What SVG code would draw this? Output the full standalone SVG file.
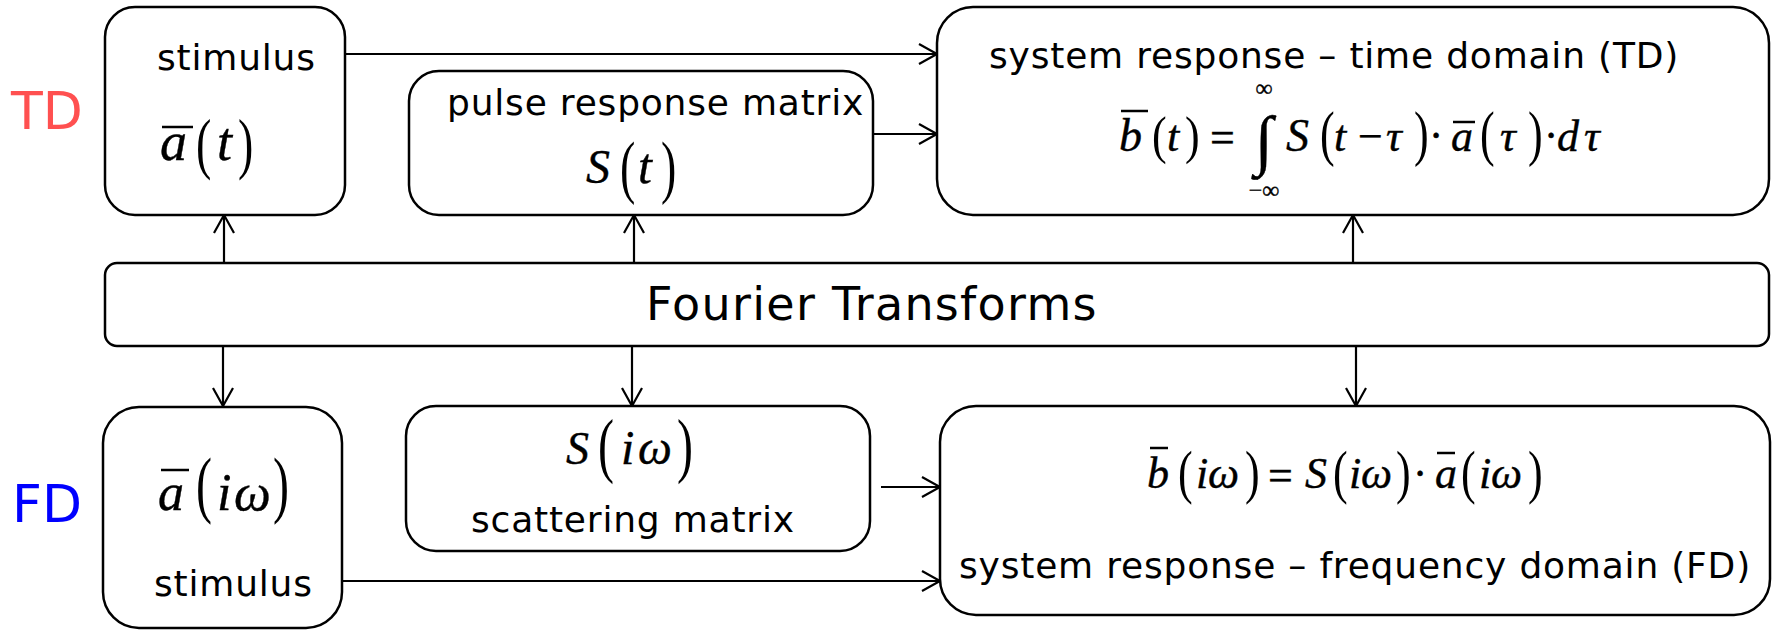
<svg xmlns="http://www.w3.org/2000/svg" width="1777" height="630" viewBox="0 0 1777 630">
<style>
.box{fill:#fff;stroke:#000;stroke-width:2.5}
.lbl{font-family:"DejaVu Sans",Verdana,sans-serif;font-size:36px;letter-spacing:0.8px;fill:#000}
.big{font-size:46px;letter-spacing:1.3px}
.m{font-family:"Liberation Serif","Times New Roman",serif;fill:#000;stroke:#000;stroke-width:0.4}
.i{font-style:italic}
.p{font-family:"Liberation Serif","Times New Roman",serif;font-size:46px;fill:#000}
.bar{stroke:#000;stroke-width:2.5}
.conn line{stroke:#000;stroke-width:2.2;fill:none;marker-end:url(#arr)}
</style>
<defs>
<marker id="arr" markerUnits="userSpaceOnUse" markerWidth="24" markerHeight="24" viewBox="-20 -12 22 24" refX="0" refY="0" orient="auto">
<path d="M-18,-10 L0,0 L-18,10" fill="none" stroke="#000" stroke-width="2.2"/>
</marker>
</defs>
<rect width="1777" height="630" fill="#fff"/>

<text x="11" y="129" font-family="DejaVu Sans,Verdana,sans-serif" font-size="52" fill="#ff5050">TD</text>
<text x="12" y="522" font-family="DejaVu Sans,Verdana,sans-serif" font-size="52" fill="#0000ff">FD</text>

<g id="connectors" class="conn">
<line x1="346" y1="54" x2="937" y2="54"/>
<line x1="873" y1="134" x2="937" y2="134"/>
<line x1="224" y1="263" x2="224" y2="215"/>
<line x1="634" y1="263" x2="634" y2="215"/>
<line x1="1353" y1="263" x2="1353" y2="215"/>
<line x1="223" y1="346" x2="223" y2="406"/>
<line x1="632" y1="346" x2="632" y2="406"/>
<line x1="1356" y1="346" x2="1356" y2="406"/>
<line x1="881" y1="487" x2="940" y2="487"/>
<line x1="343" y1="581" x2="940" y2="581"/>
</g>

<g id="td-stimulus">
<rect class="box" x="105" y="7" width="240" height="208" rx="30"/>
<text class="lbl" x="157" y="70">stimulus</text>
<line class="bar" x1="162" y1="127" x2="193" y2="127"/>
<text class="m i" x="160" y="160" font-size="54">a</text>
<text class="p" transform="translate(196,166) scale(1,1.45)">(</text>
<text class="m i" x="217" y="160" font-size="54">t</text>
<text class="p" transform="translate(238,166) scale(1,1.45)">)</text>
</g>

<g id="pulse-response">
<rect class="box" x="409" y="71" width="464" height="144" rx="30"/>
<text class="lbl" x="447" y="115">pulse response matrix</text>
<text class="m i" x="586" y="183" font-size="48">S</text>
<text class="p" transform="translate(620,190) scale(1,1.5)">(</text>
<text class="m i" x="638" y="183" font-size="50">t</text>
<text class="p" transform="translate(661,190) scale(1,1.5)">)</text>
</g>

<g id="td-system-response">
<rect class="box" x="937" y="7" width="832" height="208" rx="36"/>
<text class="lbl" x="989" y="68">system response – time domain (TD)</text>
<line class="bar" x1="1121" y1="111" x2="1148" y2="111"/>
<line class="bar" x1="1453" y1="122" x2="1475" y2="122"/>
<text class="m i" x="1119" y="151" font-size="46">b</text>
<text class="p" style="font-size:44px" transform="translate(1152,153) scale(1,1.2)">(</text>
<text class="m i" x="1167" y="151" font-size="44">t</text>
<text class="p" style="font-size:44px" transform="translate(1185,153) scale(1,1.2)">)</text>
<text class="m" x="1210" y="152" font-size="44">=</text>
<text class="m" x="1264" y="162" font-size="66" text-anchor="middle">∫</text>
<text class="m" x="1264" y="96" font-size="24" text-anchor="middle">∞</text>
<text class="m" x="1264" y="198" font-size="24" text-anchor="middle">−∞</text>
<text class="m i" x="1286" y="151" font-size="46">S</text>
<text class="p" style="font-size:44px" transform="translate(1320,154) scale(1,1.4)">(</text>
<text class="m i" x="1334" y="151" font-size="44">t</text>
<text class="m" x="1358" y="151" font-size="44">−</text>
<text class="m i" x="1386" y="151" font-size="44">τ</text>
<text class="p" style="font-size:44px" transform="translate(1414,154) scale(1,1.4)">)</text>
<text class="m" x="1436" y="150" font-size="44" text-anchor="middle">·</text>
<text class="m i" x="1451" y="151" font-size="44">a</text>
<text class="p" style="font-size:44px" transform="translate(1480,154) scale(1,1.4)">(</text>
<text class="m i" x="1500" y="151" font-size="44">τ</text>
<text class="p" style="font-size:44px" transform="translate(1528,154) scale(1,1.4)">)</text>
<text class="m" x="1551" y="150" font-size="44" text-anchor="middle">·</text>
<text class="m i" x="1557" y="151" font-size="44">d</text>
<text class="m i" x="1584" y="151" font-size="44">τ</text>
</g>

<g id="fourier-transforms">
<rect class="box" x="105" y="263" width="1664" height="83" rx="12"/>
<text class="lbl big" x="646" y="320">Fourier Transforms</text>
</g>

<g id="fd-stimulus">
<rect class="box" x="103" y="407" width="239" height="221" rx="36"/>
<line class="bar" x1="161" y1="470" x2="189" y2="470"/>
<text class="m i" x="158" y="510" font-size="52">a</text>
<text class="p" style="font-size:48px" transform="translate(196,509) scale(1,1.55)">(</text>
<text class="m i" x="217" y="510" font-size="52">i</text>
<text class="m i" x="234" y="510" font-size="52">ω</text>
<text class="p" style="font-size:48px" transform="translate(273,509) scale(1,1.55)">)</text>
<text class="lbl" x="154" y="596">stimulus</text>
</g>

<g id="scattering-matrix">
<rect class="box" x="406" y="406" width="464" height="145" rx="30"/>
<text class="m i" x="566" y="464" font-size="46">S</text>
<text class="p" style="font-size:48px" transform="translate(598,469) scale(1,1.5)">(</text>
<text class="m i" x="621" y="464" font-size="48">i</text>
<text class="m i" x="638" y="464" font-size="48">ω</text>
<text class="p" style="font-size:48px" transform="translate(677,469) scale(1,1.5)">)</text>
<text class="lbl" x="471" y="532">scattering matrix</text>
</g>

<g id="fd-system-response">
<rect class="box" x="940" y="406" width="830" height="209" rx="36"/>
<line class="bar" x1="1150" y1="448" x2="1168" y2="448"/>
<line class="bar" x1="1437" y1="453" x2="1455" y2="453"/>
<text class="m i" x="1147" y="488" font-size="44">b</text>
<text class="p" style="font-size:44px" transform="translate(1178,492) scale(1,1.35)">(</text>
<text class="m i" x="1196" y="488" font-size="44">i</text>
<text class="m i" x="1208" y="488" font-size="44">ω</text>
<text class="p" style="font-size:44px" transform="translate(1245,492) scale(1,1.35)">)</text>
<text class="m" x="1268" y="490" font-size="44">=</text>
<text class="m i" x="1305" y="488" font-size="44">S</text>
<text class="p" style="font-size:44px" transform="translate(1333,492) scale(1,1.35)">(</text>
<text class="m i" x="1349" y="488" font-size="44">i</text>
<text class="m i" x="1361" y="488" font-size="44">ω</text>
<text class="p" style="font-size:44px" transform="translate(1396,492) scale(1,1.35)">)</text>
<text class="m" x="1420" y="488" font-size="44" text-anchor="middle">·</text>
<text class="m i" x="1435" y="488" font-size="44">a</text>
<text class="p" style="font-size:44px" transform="translate(1461,492) scale(1,1.35)">(</text>
<text class="m i" x="1479" y="488" font-size="44">i</text>
<text class="m i" x="1491" y="488" font-size="44">ω</text>
<text class="p" style="font-size:44px" transform="translate(1528,492) scale(1,1.35)">)</text>
<text class="lbl" x="959" y="578">system response – frequency domain (FD)</text>
</g>
</svg>
